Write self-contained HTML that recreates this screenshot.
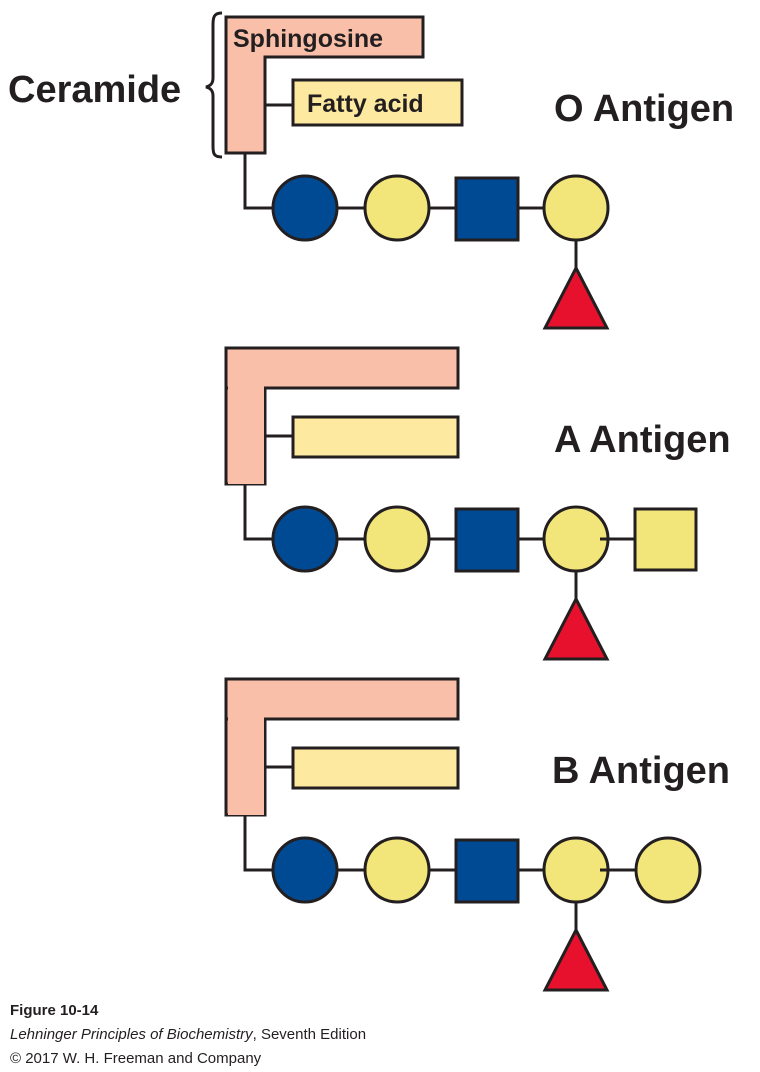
<!DOCTYPE html>
<html><head><style>body{margin:0;background:#fff}svg{display:block}</style></head>
<body>
<svg width="760" height="1072" viewBox="0 0 760 1072" xmlns="http://www.w3.org/2000/svg" font-family="Liberation Sans, sans-serif">
<defs>
<g id="blk">
  <path d="M226 17H423V57H265V153H226Z" fill="#f9bfa8" stroke="#231f20" stroke-width="3"/>
  <path d="M265 105H293M245 153V208H600M576 240V270" stroke="#231f20" stroke-width="3" fill="none"/>
  <circle cx="305" cy="208" r="32" fill="#004a93" stroke="#231f20" stroke-width="3"/>
  <circle cx="397" cy="208" r="32" fill="#f2e57a" stroke="#231f20" stroke-width="3"/>
  <rect x="456" y="178" width="62" height="62" fill="#004a93" stroke="#231f20" stroke-width="3"/>
  <circle cx="576" cy="208" r="32" fill="#f2e57a" stroke="#231f20" stroke-width="3"/>
  <path d="M576 268L607 328H545Z" fill="#e8112d" stroke="#231f20" stroke-width="3"/>
</g>
</defs>
<!-- O -->
<use href="#blk"/>
<rect x="293" y="80" width="169" height="45" fill="#fde99f" stroke="#231f20" stroke-width="3"/>
<text x="233" y="47" font-size="25" font-weight="bold" fill="#231f20">Sphingosine</text>
<text x="307" y="112" font-size="25" font-weight="bold" fill="#231f20">Fatty acid</text>
<text x="8" y="102" font-size="38" font-weight="bold" fill="#231f20">Ceramide</text>
<path d="M222 13C214 13 213 17 213 25V78C213 84 210 86 206 87C210 88 213 90 213 96V146C213 154 214 157 222 157" fill="none" stroke="#231f20" stroke-width="3"/>
<text x="554" y="121" font-size="38" font-weight="bold" fill="#231f20">O Antigen</text>
<!-- A -->
<g transform="translate(0,331)">
  <rect x="226" y="17" width="232" height="1" fill="none"/>
  <use href="#blk"/>
  <rect x="226" y="17" width="232" height="40" fill="#f9bfa8" stroke="#231f20" stroke-width="3"/>
  <rect x="228" y="19" width="36" height="134" fill="#f9bfa8"/>
  <path d="M600 208H635" stroke="#231f20" stroke-width="3"/>
  <rect x="635" y="178" width="61" height="61" fill="#f2e57a" stroke="#231f20" stroke-width="3"/>
  <rect x="293" y="86" width="165" height="40" fill="#fde99f" stroke="#231f20" stroke-width="3"/>
</g>
<text x="554" y="452" font-size="38" font-weight="bold" fill="#231f20">A Antigen</text>
<!-- B -->
<g transform="translate(0,662)">
  <use href="#blk"/>
  <rect x="226" y="17" width="232" height="40" fill="#f9bfa8" stroke="#231f20" stroke-width="3"/>
  <rect x="228" y="19" width="36" height="134" fill="#f9bfa8"/>
  <path d="M600 208H636" stroke="#231f20" stroke-width="3"/>
  <circle cx="668" cy="208" r="32" fill="#f2e57a" stroke="#231f20" stroke-width="3"/>
  <rect x="293" y="86" width="165" height="40" fill="#fde99f" stroke="#231f20" stroke-width="3"/>
</g>
<text x="552" y="783" font-size="38" font-weight="bold" fill="#231f20">B Antigen</text>
<text x="10" y="1015" font-size="15" font-weight="bold" fill="#231f20">Figure 10-14</text>
<text x="10" y="1039" font-size="15" fill="#231f20"><tspan font-style="italic">Lehninger Principles of Biochemistry</tspan>, Seventh Edition</text>
<text x="10" y="1063" font-size="15" fill="#231f20">© 2017 W. H. Freeman and Company</text>
</svg>
</body></html>
